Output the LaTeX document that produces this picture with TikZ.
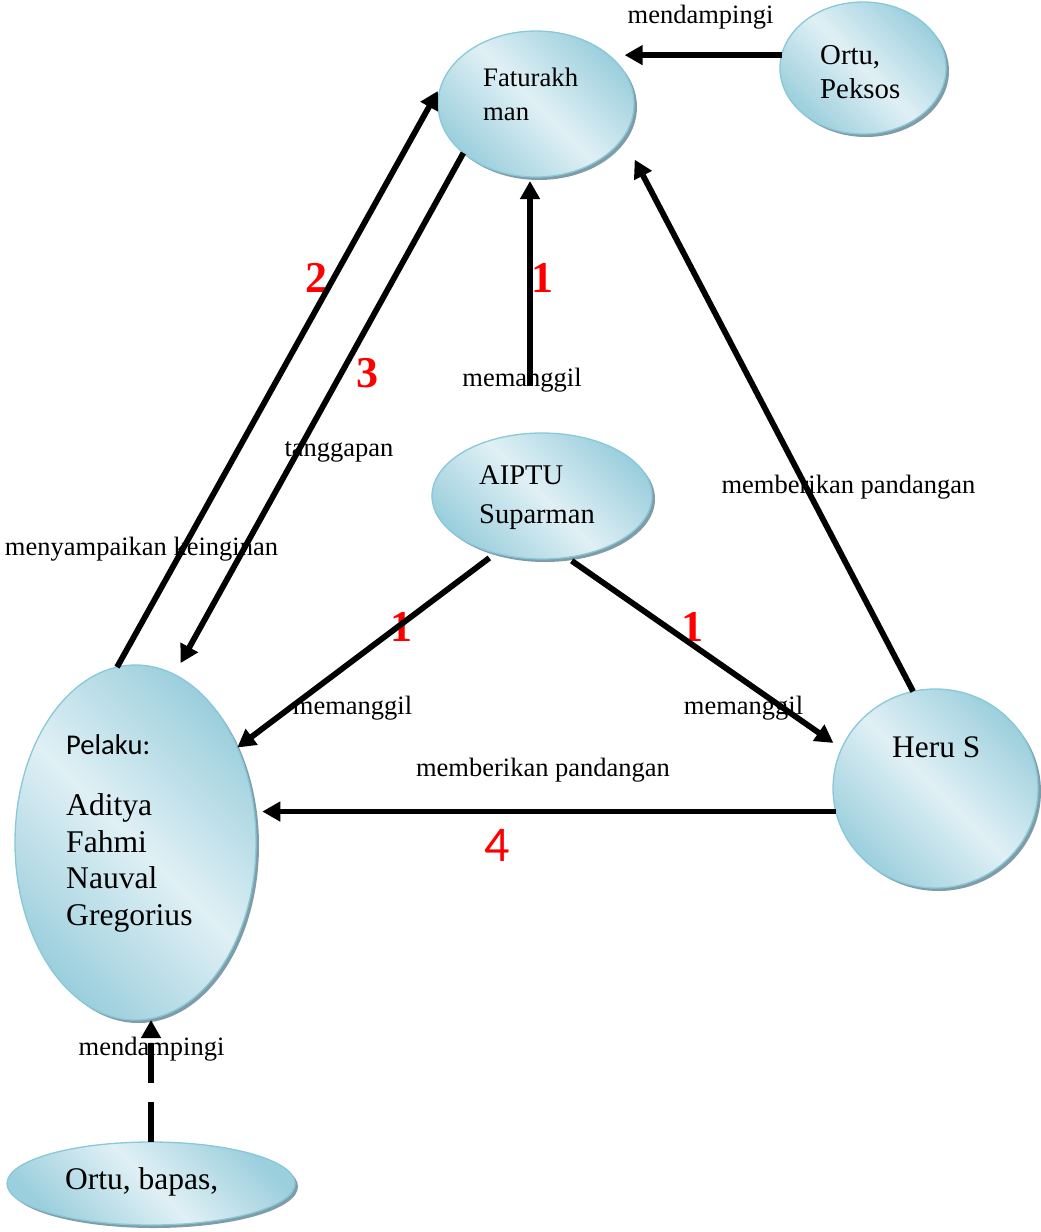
\documentclass[tikz,border=0pt]{standalone}
\usepackage{fontspec}
\setmainfont{Liberation Serif}
\newfontfamily\carlito{Carlito}
\usetikzlibrary{shapes.geometric,shadows,arrows.meta}
\definecolor{fillDark}{RGB}{156,207,221}
\definecolor{fillLight}{RGB}{224,240,245}
\definecolor{rimBlue}{RGB}{135,200,217}
\definecolor{rimShadow}{RGB}{128,156,166}
\newcommand\setfs[2]{\fontsize{#1}{#2}\selectfont}
\begin{document}
\begin{tikzpicture}[x=1pt,y=-1pt,
  blob/.style={ellipse, draw=rimBlue, line width=1.3pt, inner sep=0pt, outer sep=0pt,
    top color=fillDark, bottom color=fillDark, middle color=fillLight, shading angle=-45,
    drop shadow={shadow xshift=3pt, shadow yshift=-3pt, fill=rimShadow, opacity=1}},
  txt/.style={anchor=west, align=left, inner sep=0pt},
  lbl/.style={inner sep=0pt, font=\setfs{26.5}{30}},
  num/.style={inner sep=0pt, text=red, font=\setfs{44}{48}\bfseries},
  arr/.style={line width=5.8pt, -{Triangle[length=18pt,width=19pt]}}]
\useasboundingbox (0,0) rectangle (1041,1232);

% actors
\node[blob, minimum width=196pt, minimum height=146pt] (fat)  at (536,104) {};
\node[blob, minimum width=166pt, minimum height=132pt] (op)   at (863,68) {};
\node[blob, minimum width=220pt, minimum height=126pt] (aip)  at (542,496) {};
\node[blob, minimum width=241pt, minimum height=355pt] (pel)  at (135.5,842.5) {};
\node[blob, minimum width=205pt, minimum height=199pt] (heru) at (935.5,788.5) {};
\node[blob, minimum width=288pt, minimum height=83pt]  (ob)   at (151,1183.5) {};

% names inside the ellipses
\node[txt, font=\setfs{26.7}{34}] (fat-t) at (483,94) {Faturakh\\man};
\node[txt, font=\setfs{28.8}{34}] (op-t) at (820,72) {Ortu,\\Peksos};
\node[txt, font=\setfs{28.5}{39}] (aip-t) at (479,497.5) {AIPTU\\Suparman};
\node[txt, font=\carlito\setfs{28.6}{34}] (pel-h) at (66,745) {Pelaku:};
\node[txt, font=\setfs{31.6}{36.7}] (pel-t) at (66,863) {Aditya\\Fahmi\\Nauval\\Gregorius};
\node[txt, font=\setfs{31.4}{36}] (heru-t) at (892,747) {Heru S};
\node[txt, font=\setfs{31.5}{36}] (ob-t) at (65,1182) {Ortu, bapas,};

% connector labels
\node[lbl] (l-top)   at (700.5,17)  {mendampingi};
\node[lbl] (l-call1) at (522,380)   {memanggil};
\node[lbl] (l-resp)  at (339,452)   {tanggapan};
\node[lbl] (l-wish)  at (141.5,549) {menyampaikan keinginan};
\node[lbl] (l-view1) at (848.5,487) {memberikan pandangan};
\node[lbl] (l-call2) at (352.5,708) {memanggil};
\node[lbl] (l-call3) at (743.5,708) {memanggil};
\node[lbl] (l-view2) at (543,770)   {memberikan pandangan};
\node[lbl] (l-bot)   at (151.5,1049) {mendampingi};

% step numbers
\node[num] (n1a) at (542,278) {1};
\node[num] (n2)  at (316,278) {2};
\node[num] (n3)  at (367,373) {3};
\node[num] (n1b) at (401,627) {1};
\node[num] (n1c) at (692,627) {1};
\node[inner sep=0pt, text=red, font=\carlito\setfs{50}{54}] (n4) at (497,845) {4};

% connectors
\coordinate (m1) at (530,386);
\draw[arr, shorten >=16pt] (op.171) -- (fat.34 |- op.171);
\draw[arr, shorten >=4pt] (m1) -- (m1 |- fat.south);
\draw[arr, shorten >=8pt] (pel.96) -- (fat.168);
\draw[arr, shorten >=13pt] (fat.214) -- (pel.77);
\draw[arr, shorten >=25pt] (heru.103) -- (fat.339);
\draw[arr, shorten <=8pt] (aip.231) -- (pel.43);
\draw[arr, shorten <=6pt, shorten >=10pt] (aip.292) -- (heru.157);
\draw[arr, shorten >=8pt] (heru.193) -- (pel.14 |- heru.193);
\draw[arr, dash pattern=on 40pt off 19pt] (ob.north) -- (ob.north |- pel.south);
\end{tikzpicture}
\end{document}
